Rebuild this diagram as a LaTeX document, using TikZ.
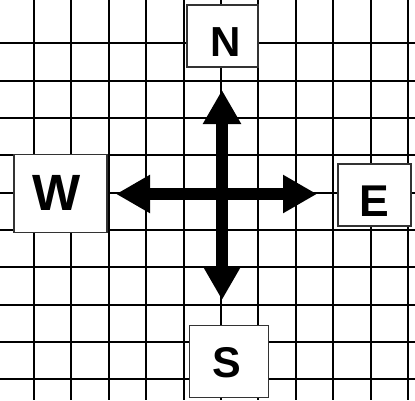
\documentclass[tikz,border=0pt]{standalone}
\usepackage{fontspec}
\setmainfont{Liberation Sans}
\usetikzlibrary{arrows.meta}
\begin{document}
\begin{tikzpicture}[x=1pt,y=-1pt,
  gridline/.style={line width=2pt, black},
  dirbox/.style={draw=black!80, line width=1.3pt, fill=white, inner sep=0pt},
  dirtext/.style={inner sep=0pt, font=\bfseries},
  bigarrow/.style={line width=12pt, black, {Triangle[length=34pt 0 0, width=36pt 0 0]}-{Triangle[length=34pt 0 0, width=36pt 0 0]}}
]
\useasboundingbox (0,0) rectangle (415,400);
\fill[white] (0,0) rectangle (415,400);
% grid
\foreach \i in {0,...,10} {
  \draw[gridline] ({34+37.4*\i},0) -- ({34+37.4*\i},400);
}
\foreach \j in {0,...,9} {
  \draw[gridline] (0,{43.3+37.33*\j}) -- (415,{43.3+37.33*\j});
}
% boxes
\node[dirbox, minimum width=71pt, minimum height=62pt] (N) at (222.5,36) {};
\node[dirbox, minimum width=93pt, minimum height=78pt] (W) at (60.5,193.5) {};
\node[dirbox, minimum width=73pt, minimum height=62pt] (E) at (374.5,195) {};
\node[dirbox, minimum width=78.5pt, minimum height=71.5pt] (S) at (229,361.5) {};
% letters
\node[dirtext, font=\bfseries\fontsize{42}{42}\selectfont] (Nt) at (225.3,42) {N};
\node[dirtext, font=\bfseries\fontsize{51}{51}\selectfont] (Wt) at (56.5,193.3) {W};
\node[dirtext, font=\bfseries\fontsize{44.5}{44.5}\selectfont] (Et) at (374,201) {E};
\node[dirtext, font=\bfseries\fontsize{43}{43}\selectfont] (St) at (226.7,362.5) {S};
% arrows
\coordinate (tipN) at (222,90);
\coordinate (tipS) at (222,300);
\coordinate (tipW) at (116,194);
\coordinate (tipE) at (317,194);
\draw[bigarrow] (tipS) -- (tipN);
\draw[bigarrow] (tipW) -- (tipE);
\end{tikzpicture}
\end{document}
